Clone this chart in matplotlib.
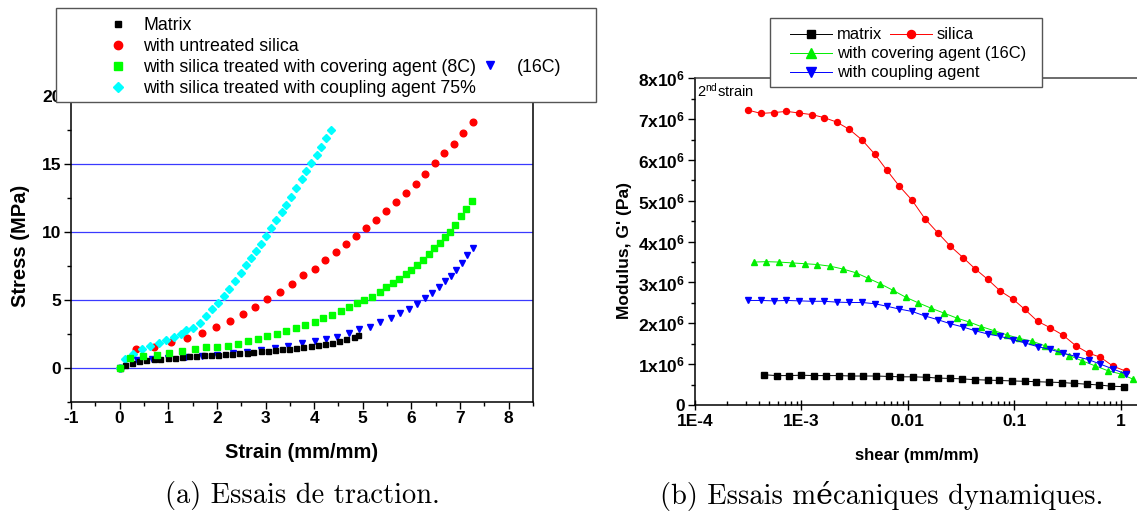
import matplotlib
matplotlib.use("Agg")
import matplotlib.pyplot as plt
from matplotlib.patches import Rectangle
from matplotlib.ticker import MultipleLocator, FixedLocator, FixedFormatter, FuncFormatter, LogLocator, NullFormatter

# ---- (a) essais de traction : strain (mm/mm) / stress (MPa)
matrix_x = [0, 0.11, 0.26, 0.40, 0.55, 0.70, 0.84, 0.99, 1.14, 1.28, 1.43, 1.58, 1.73, 1.87, 2.02, 2.17, 2.31, 2.46,
            2.61, 2.75, 2.90, 3.05, 3.19, 3.34, 3.49, 3.63, 3.78, 3.93, 4.07, 4.22, 4.37, 4.52, 4.66, 4.81, 4.90]
matrix_y = [0, 0.2, 0.37, 0.49, 0.57, 0.62, 0.67, 0.72, 0.74, 0.79, 0.84, 0.86, 0.91, 0.94, 0.96, 1.01, 1.04, 1.06,
            1.11, 1.16, 1.21, 1.26, 1.31, 1.36, 1.41, 1.48, 1.53, 1.58, 1.65, 1.73, 1.85, 1.95, 2.10, 2.30, 2.40]

untreated_x = [0, 0.33, 0.70, 1.05, 1.38, 1.70, 1.98, 2.26, 2.53, 2.78, 3.04, 3.30, 3.54, 3.78, 4.01, 4.23, 4.44,
               4.66, 4.87, 5.07, 5.28, 5.48, 5.69, 5.89, 6.09, 6.28, 6.48, 6.68, 6.88, 7.07, 7.27]
untreated_y = [0, 1.35, 1.55, 1.9, 2.2, 2.55, 3.0, 3.45, 3.95, 4.5, 5.1, 5.6, 6.2, 6.8, 7.3, 7.95, 8.5, 9.1, 9.7,
               10.3, 10.9, 11.55, 12.2, 12.9, 13.55, 14.3, 15.1, 15.85, 16.5, 17.3, 18.1]

cov8_x = [0, 0.22, 0.48, 0.76, 1.02, 1.28, 1.54, 1.78, 2.0, 2.22, 2.43, 2.64, 2.84, 3.03, 3.23, 3.42, 3.62, 3.82,
          4.01, 4.19, 4.37, 4.55, 4.72, 4.89, 5.03, 5.19, 5.35, 5.48, 5.62, 5.75, 5.88, 6.0, 6.12, 6.24, 6.36, 6.47,
          6.58, 6.69, 6.80, 6.89, 7.01, 7.13, 7.24]
cov8_y = [0, 0.7, 0.85, 0.95, 1.1, 1.25, 1.35, 1.5, 1.55, 1.62, 1.75, 1.97, 2.15, 2.35, 2.5, 2.7, 2.95, 3.15, 3.4,
          3.7, 3.9, 4.2, 4.45, 4.75, 5.0, 5.25, 5.55, 5.95, 6.25, 6.55, 6.9, 7.2, 7.55, 7.95, 8.35, 8.8, 9.2, 9.6,
          10.0, 10.5, 11.15, 11.7, 12.3]

cov16_x = [0, 0.35, 0.66, 0.99, 1.36, 1.69, 2.0, 2.33, 2.62, 2.90, 3.19, 3.46, 3.74, 4.02, 4.24, 4.47, 4.71, 4.93,
           5.15, 5.36, 5.57, 5.76, 5.95, 6.12, 6.28, 6.42, 6.56, 6.69, 6.81, 6.92, 7.03, 7.14, 7.27]
cov16_y = [0, 0.57, 0.62, 0.74, 0.81, 0.86, 0.94, 1.06, 1.19, 1.31, 1.48, 1.63, 1.80, 2.0, 2.12, 2.30, 2.54, 2.84,
           3.04, 3.36, 3.65, 4.02, 4.32, 4.69, 5.14, 5.51, 5.93, 6.37, 6.74, 7.23, 7.73, 8.30, 8.84]

coup_x = [0, 0.11, 0.27, 0.46, 0.62, 0.80, 0.96, 1.12, 1.26, 1.37, 1.50, 1.65, 1.78, 1.90, 2.02, 2.14, 2.25, 2.37,
          2.49, 2.60, 2.71, 2.81, 2.91, 3.02, 3.12, 3.22, 3.33, 3.43, 3.53, 3.63, 3.74, 3.84, 3.94, 4.05, 4.15, 4.24, 4.35]
coup_y = [0, 0.62, 1.0, 1.35, 1.6, 1.85, 2.05, 2.3, 2.5, 2.75, 2.9, 3.3, 3.8, 4.3, 4.8, 5.3, 5.8, 6.4, 6.95, 7.55,
          8.1, 8.6, 9.15, 9.7, 10.3, 10.9, 11.45, 12.0, 12.6, 13.25, 13.9, 14.5, 15.1, 15.7, 16.3, 16.95, 17.55]

# ---- (b) essais dynamiques : shear (mm/mm) / G' (x10^6 Pa)
shear_a = [3.16e-4, 4.17e-4, 5.50e-4, 7.24e-4, 9.55e-4, 1.26e-3, 1.62e-3, 2.14e-3, 2.82e-3, 3.72e-3, 4.90e-3,
           6.31e-3, 8.32e-3, 1.10e-2, 1.45e-2, 1.91e-2, 2.51e-2, 3.31e-2, 4.27e-2, 5.62e-2, 7.41e-2, 9.77e-2,
           0.126, 0.166, 0.219, 0.288, 0.380, 0.501, 0.646, 0.851, 1.12]
shear_m = [4.47e-4, 5.89e-4, 7.59e-4, 1.0e-3, 1.32e-3, 1.70e-3, 2.24e-3, 2.95e-3, 3.80e-3, 5.01e-3, 6.61e-3,
           8.51e-3, 1.12e-2, 1.48e-2, 1.91e-2, 2.51e-2, 3.24e-2, 4.27e-2, 5.62e-2, 7.24e-2, 9.55e-2, 0.126, 0.162,
           0.214, 0.282, 0.363, 0.479, 0.631, 0.813, 1.07]
shear_c = [3.55e-4, 4.68e-4, 6.17e-4, 8.13e-4, 1.07e-3, 1.41e-3, 1.86e-3, 2.45e-3, 3.24e-3, 4.27e-3, 5.50e-3,
           7.24e-3, 9.55e-3, 1.26e-2, 1.66e-2, 2.19e-2, 2.88e-2, 3.80e-2, 4.90e-2, 6.46e-2, 8.51e-2, 0.112, 0.148,
           0.195, 0.257, 0.331, 0.437, 0.575, 0.759, 1.0, 1.32]

g_matrix = [0.74, 0.72, 0.72, 0.73, 0.72, 0.72, 0.72, 0.71, 0.71, 0.71, 0.70, 0.69, 0.69, 0.68, 0.66, 0.65, 0.64,
            0.62, 0.61, 0.60, 0.59, 0.58, 0.57, 0.56, 0.55, 0.53, 0.51, 0.49, 0.46, 0.45]
g_silica = [7.22, 7.14, 7.16, 7.19, 7.15, 7.11, 7.04, 6.93, 6.75, 6.49, 6.14, 5.76, 5.36, 5.01, 4.56, 4.22, 3.89,
            3.61, 3.34, 3.08, 2.79, 2.59, 2.34, 2.05, 1.89, 1.71, 1.45, 1.27, 1.17, 0.95, 0.83]
g_cover = [3.50, 3.51, 3.50, 3.48, 3.46, 3.44, 3.40, 3.33, 3.24, 3.10, 2.97, 2.81, 2.64, 2.50, 2.37, 2.25, 2.13,
           2.03, 1.92, 1.82, 1.72, 1.63, 1.56, 1.45, 1.33, 1.21, 1.08, 0.96, 0.84, 0.76, 0.63]
g_coupling = [2.56, 2.56, 2.55, 2.56, 2.55, 2.54, 2.54, 2.52, 2.51, 2.51, 2.48, 2.42, 2.35, 2.29, 2.18, 2.09, 1.99,
              1.91, 1.82, 1.74, 1.68, 1.60, 1.52, 1.43, 1.36, 1.27, 1.19, 1.11, 1.00, 0.88, 0.76]

plt.rcParams["font.family"] = ["Liberation Sans", "DejaVu Sans"]
plt.rcParams["font.weight"] = "bold"
plt.rcParams["axes.labelweight"] = "bold"
plt.rcParams["axes.unicode_minus"] = False
plt.rcParams["mathtext.fontset"] = "custom"
plt.rcParams["mathtext.rm"] = "Liberation Sans:weight=normal"
plt.rcParams["mathtext.bf"] = "Liberation Sans:bold"
plt.rcParams["mathtext.it"] = "Liberation Sans:italic"

W, H = 1137, 513
fig = plt.figure(figsize=(W / 100, H / 100), dpi=100)


def box(x0, y0, x1, y1):
    # pixel box (top-left origin) -> figure fraction
    return [x0 / W, 1 - y1 / H, (x1 - x0) / W, (y1 - y0) / H]


# ---------------- left panel
ax1 = fig.add_axes(box(71, 96.3, 533, 401.7))
l_unt, = ax1.plot(untreated_x, untreated_y, ls="none", marker="o", ms=4.8, color="#ff0000")
l_coup, = ax1.plot(coup_x, coup_y, ls="none", marker="D", ms=4.0, color="#00ffff")
l_c16, = ax1.plot(cov16_x, cov16_y, ls="none", marker="v", ms=5.0, color="#0000ff")
l_mat, = ax1.plot(matrix_x, matrix_y, ls="none", marker="s", ms=3.6, color="black")
l_c8, = ax1.plot(cov8_x, cov8_y, ls="none", marker="s", ms=4.3, color="#00ff00")

ax1.set_xlim(-1, 8.5)
ax1.set_ylim(-2.5, 20)
ax1.xaxis.set_major_locator(MultipleLocator(1))
ax1.xaxis.set_minor_locator(MultipleLocator(0.5))
ax1.yaxis.set_major_locator(MultipleLocator(5))
ax1.yaxis.set_minor_locator(MultipleLocator(2.5))
ax1.yaxis.grid(True, color="#3a3aff", lw=0.9)
ax1.set_axisbelow(True)
ax1.tick_params(which="major", direction="out", length=5, width=1, labelsize=12.5, pad=2)
ax1.tick_params(which="minor", direction="out", length=3, width=1)
for s in ax1.spines.values():
    s.set_linewidth(1.1)
ax1.set_xlabel("Strain (mm/mm)", fontsize=14.5, va="center")
ax1.xaxis.set_label_coords(0.5, -0.165)
ax1.set_ylabel("Stress (MPa)", fontsize=14.5, va="center")
ax1.yaxis.set_label_coords(-0.11, 0.51)

# ---------------- right panel
ax2 = fig.add_axes(box(695, 78.3, 1152.6, 405))
ax2.set_xscale("log")
kw = dict(lw=0.7, ms=4.3)
r_mat, = ax2.plot(shear_m, [v * 1e6 for v in g_matrix], marker="s", color="black", **kw)
r_sil, = ax2.plot(shear_a, [v * 1e6 for v in g_silica], marker="o", color="#ff0000", **kw)
r_cov, = ax2.plot(shear_c, [v * 1e6 for v in g_cover], marker="^", color="#00ee00", lw=0.7, ms=5.0)
r_cpl, = ax2.plot(shear_a, [v * 1e6 for v in g_coupling], marker="v", color="#0000ff", lw=0.7, ms=5.0)

ax2.set_xlim(1e-4, 2)
ax2.set_ylim(0, 8e6)
ax2.xaxis.set_major_locator(FixedLocator([1e-4, 1e-3, 1e-2, 1e-1, 1]))
ax2.xaxis.set_major_formatter(FixedFormatter(["1E-4", "1E-3", "0.01", "0.1", "1"]))
ax2.xaxis.set_minor_locator(LogLocator(base=10, subs=range(2, 10), numticks=20))
ax2.xaxis.set_minor_formatter(NullFormatter())
ax2.yaxis.set_major_locator(MultipleLocator(1e6))
ax2.yaxis.set_minor_locator(MultipleLocator(5e5))
ax2.yaxis.set_major_formatter(FuncFormatter(
    lambda v, p: "0" if v == 0 else r"$\mathbf{%dx10^{6}}$" % round(v / 1e6)))
ax2.tick_params(axis="x", which="major", direction="inout", length=7, width=1, labelsize=12.5, pad=3)
ax2.tick_params(axis="x", which="minor", direction="in", length=3, width=1)
ax2.tick_params(axis="y", which="major", direction="out", length=5, width=1, labelsize=12.5, pad=2)
ax2.tick_params(axis="y", which="minor", direction="out", length=3, width=1)
for s in ax2.spines.values():
    s.set_linewidth(1.1)
ax2.spines["top"].set_color("#444444")
ax2.set_xlabel("shear (mm/mm)", fontsize=12, va="center")
ax2.xaxis.set_label_coords(0.485, -0.156)
ax2.set_ylabel("Modulus, G' (Pa)", fontsize=12.5, va="center")
ax2.yaxis.set_label_coords(-0.153, 0.474)
ax2.text(0.004, 0.99, r"2$^{\mathrm{nd}}$strain", transform=ax2.transAxes, ha="left", va="top",
         fontsize=10.5, fontweight="normal")

for ax in (ax1, ax2):
    plt.setp(ax.get_xticklabels() + ax.get_yticklabels(), fontweight="bold")

# ---------------- legends (boxes drawn separately)
fig.patches.append(Rectangle((56 / W, 1 - 101.7 / H), 540 / W, 94.2 / H, transform=fig.transFigure,
                             facecolor="white", edgecolor="#555555", lw=1.0, zorder=4))
fig.patches.append(Rectangle((770 / W, 1 - 87.3 / H), 271.7 / W, 69 / H, transform=fig.transFigure,
                             facecolor="white", edgecolor="#555555", lw=1.0, zorder=4))

lp = dict(loc="upper left", frameon=False, borderpad=0, borderaxespad=0)
left_prop = {"size": 12.8, "weight": "normal"}
right_prop = {"size": 11.9, "weight": "normal"}
fig.legend([l_mat, l_unt, l_c8, l_coup],
           ["Matrix", "with untreated silica", "with silica treated with covering agent (8C)",
            "with silica treated with coupling agent 75%"],
           bbox_to_anchor=(109 / W, 1 - 17 / H), handlelength=1.0, handletextpad=0.94,
           labelspacing=0.22, markerscale=1.25, prop=left_prop, **lp)
fig.legend([l_c16], ["(16C)"], bbox_to_anchor=(481 / W, 1 - 58.5 / H), handlelength=1.0,
           handletextpad=1.0, markerscale=1.25, prop=left_prop, **lp)
fig.legend([r_mat, r_cov, r_cpl], ["matrix", "with covering agent (16C)", "with coupling agent"],
           bbox_to_anchor=(790 / W, 1 - 27.4 / H), handlelength=2.53, handletextpad=0.3,
           labelspacing=0.24, markerscale=1.35, prop=right_prop, **lp)
fig.legend([r_sil], ["silica"], bbox_to_anchor=(890 / W, 1 - 27.4 / H), handlelength=2.53,
           handletextpad=0.3, markerscale=1.35, prop=right_prop, **lp)

# ---------------- captions
cap = dict(ha="center", va="center", fontsize=20.5, fontweight="normal", family=["cmr10", "DejaVu Serif"])
fig.text(302 / W, 1 - 496 / H, "(a) Essais de traction.", **cap)
fig.text(882 / W, 1 - 496 / H, "(b) Essais mécaniques dynamiques.", **cap)

fig.savefig("out.png", dpi=100)
